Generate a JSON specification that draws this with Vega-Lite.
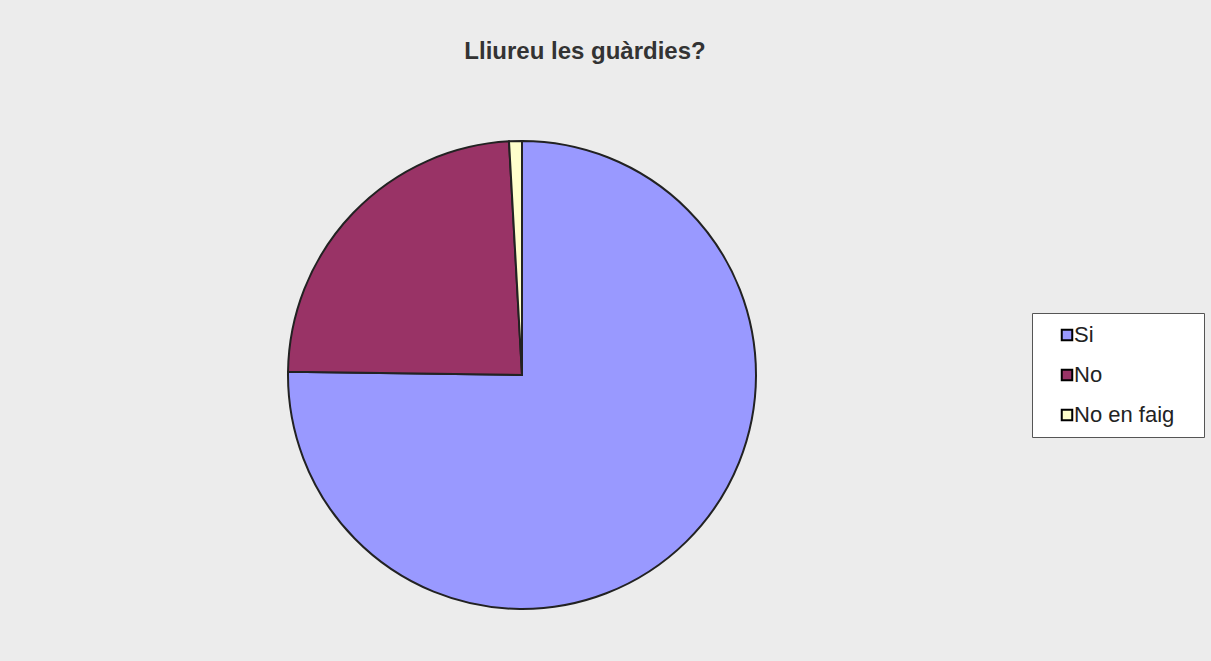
{
  "$schema": "https://vega.github.io/schema/vega-lite/v6.json",
  "autosize": "none",
  "width": 1034,
  "height": 734,
  "padding": {"left": 5, "top": 8, "right": 172, "bottom": 0},
  "background": "#ececec",
  "title": {
    "text": "Lliureu les guàrdies?",
    "font": "Liberation Sans",
    "fontSize": 24,
    "fontWeight": "bold",
    "color": "#333333",
    "anchor": "middle",
    "dx": 63,
    "dy": 60
  },
  "data": {
    "values": [
      {"Resposta": "Si", "Vots": 85},
      {"Resposta": "No", "Vots": 27},
      {"Resposta": "No en faig", "Vots": 1}
    ]
  },
  "mark": {"type": "arc", "outerRadius": 234, "stroke": "#222222", "strokeWidth": 2},
  "encoding": {
    "theta": {"field": "Vots", "type": "quantitative", "stack": true},
    "color": {
      "field": "Resposta",
      "type": "nominal",
      "sort": ["Si", "No", "No en faig"],
      "scale": {"domain": ["Si", "No", "No en faig"], "range": ["#9999ff", "#993366", "#ffffcc"]},
      "legend": {
        "title": null,
        "orient": "none",
        "legendX": 1027,
        "legendY": 305,
        "fillColor": "#ffffff",
        "strokeColor": "#555555",
        "padding": 11,
        "symbolType": "square",
        "symbolSize": 110,
        "symbolStrokeColor": "#000000",
        "symbolStrokeWidth": 2,
        "symbolOffset": 13,
        "labelFont": "Liberation Sans",
        "labelFontSize": 22,
        "labelColor": "#222222",
        "labelOffset": -4,
        "rowPadding": 18,
        "labelExpr": "datum.label + '\u00a0\u00a0\u00a0\u200b'"
      }
    },
    "order": {"field": "Vots", "sort": "descending"}
  },
  "config": {"view": {"stroke": null}}
}
